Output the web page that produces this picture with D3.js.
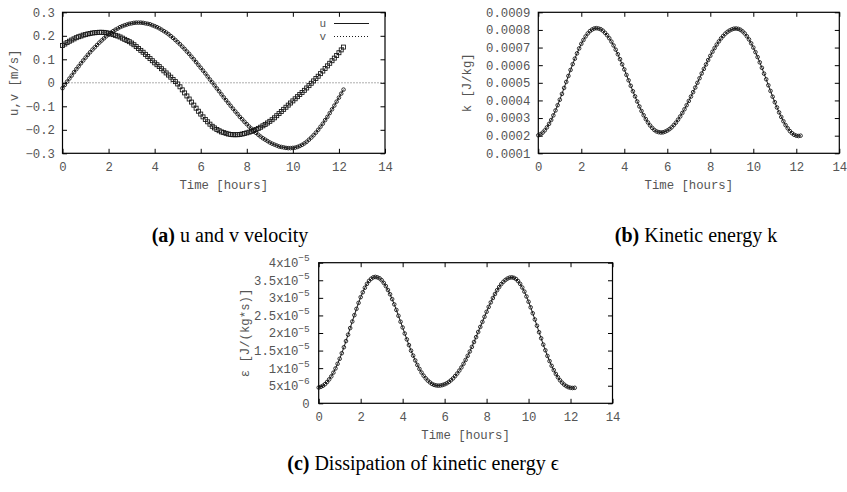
<!DOCTYPE html>
<html><head><meta charset="utf-8">
<script src="https://cdn.jsdelivr.net/npm/d3@7"></script>
<style>
body{margin:0;background:#fff;}
svg{display:block;}
.tick text{font-family:"Liberation Mono",monospace;font-size:12.3px;fill:#555;}
.atitle{font-family:"Liberation Mono",monospace;font-size:12.3px;fill:#555;}
.leg{font-family:"Liberation Mono",monospace;font-size:11px;fill:#555;}
.cap{font-family:"Liberation Serif","Times New Roman",serif;font-size:20px;fill:#000;}
</style></head><body>
<svg id="c" width="847" height="492"></svg>
<script>
// ---------------- data ----------------
const time = [0,0.1,0.2,0.3,0.4,0.5,0.6,0.7,0.8,0.9,1,1.1,1.2,1.3,1.4,1.5,1.6,1.7,1.8,1.9,2,2.1,2.2,2.3,2.4,2.5,2.6,2.7,2.8,2.9,
3,3.1,3.2,3.3,3.4,3.5,3.6,3.7,3.8,3.9,4,4.1,4.2,4.3,4.4,4.5,4.6,4.7,4.8,4.9,5,5.1,5.2,5.3,5.4,5.5,5.6,5.7,5.8,5.9,
6,6.1,6.2,6.3,6.4,6.5,6.6,6.7,6.8,6.9,7,7.1,7.2,7.3,7.4,7.5,7.6,7.7,7.8,7.9,8,8.1,8.2,8.3,8.4,8.5,8.6,8.7,8.8,8.9,
9,9.1,9.2,9.3,9.4,9.5,9.6,9.7,9.8,9.9,10,10.1,10.2,10.3,10.4,10.5,10.6,10.7,10.8,10.9,11,11.1,11.2,11.3,11.4,11.5,11.6,11.7,11.8,11.9,
12,12.1,12.2];

// u velocity (circles, solid)
const uVel = [-0.023,-0.009,0.005,0.018,0.031,0.045,0.058,0.070,0.083,0.095,0.107,0.119,0.130,0.141,0.151,0.161,0.171,0.180,0.189,0.198,
0.205,0.213,0.220,0.226,0.231,0.237,0.241,0.245,0.248,0.251,0.253,0.255,0.256,0.256,
0.256,0.255,0.253,0.251,0.249,0.245,0.241,0.237,0.232,0.226,0.220,0.214,0.207,0.199,0.191,0.182,0.173,0.164,0.154,0.144,
0.133,0.123,0.111,0.100,0.088,0.076,0.064,0.052,0.040,0.027,0.014,0.002,-0.011,-0.024,-0.036,-0.049,-0.062,-0.074,-0.086,-0.098,
-0.110,-0.122,-0.133,-0.145,-0.155,-0.166,-0.176,-0.186,-0.195,-0.204,-0.213,-0.221,-0.229,-0.236,-0.242,-0.248,-0.254,-0.259,-0.263,-0.267,
-0.271,-0.273,-0.275,-0.277,-0.278,-0.278,
-0.277,-0.276,-0.273,-0.269,-0.264,-0.258,-0.251,-0.242,-0.233,-0.223,-0.212,-0.200,-0.187,-0.174,-0.159,-0.145,-0.129,-0.113,-0.097,-0.080,
-0.063,-0.046,-0.029];

// v velocity (squares, dotted)
const vVel = [0.159,0.165,0.171,0.177,0.182,0.187,0.192,0.196,0.199,0.203,0.205,0.208,0.210,0.212,0.213,0.214,0.215,0.215,
0.2145,0.213,0.211,0.208,0.205,0.202,0.199,0.195,0.190,0.185,0.180,0.175,0.169,0.162,0.154,0.146,0.138,0.130,0.121,0.112,0.103,0.094,0.085,
0.077,0.069,0.060,0.051,0.042,0.033,0.024,0.014,0.005,-0.005,-0.017,-0.030,-0.043,-0.056,-0.069,-0.082,-0.095,-0.108,-0.121,-0.133,
-0.145,-0.156,-0.166,-0.176,-0.185,-0.192,-0.199,-0.204,-0.209,-0.212,-0.215,-0.218,-0.220,-0.221,
-0.221,-0.221,-0.220,-0.218,-0.216,-0.213,-0.210,-0.207,-0.203,-0.199,-0.194,-0.189,-0.183,-0.177,-0.171,-0.164,
-0.157,-0.149,-0.140,-0.131,-0.122,-0.113,-0.104,-0.095,-0.086,-0.077,-0.068,-0.059,-0.050,-0.041,-0.032,-0.022,-0.012,-0.002,
0.008,0.018,0.028,0.039,0.050,0.061,0.072,0.083,0.094,0.105,0.116,0.128,0.140,0.152];

// kinetic energy k [J/kg]
const kinEnergy = [2.02e-4,2.08e-4,2.17e-4,2.30e-4,2.47e-4,2.67e-4,2.89e-4,3.15e-4,3.43e-4,3.73e-4,4.04e-4,4.37e-4,4.71e-4,5.05e-4,5.39e-4,
5.73e-4,6.06e-4,6.37e-4,6.67e-4,6.95e-4,7.21e-4,7.43e-4,7.63e-4,7.80e-4,7.93e-4,8.02e-4,8.08e-4,8.10e-4,
8.08e-4,8.04e-4,7.96e-4,7.84e-4,7.70e-4,7.53e-4,7.34e-4,7.12e-4,6.88e-4,6.62e-4,6.34e-4,6.05e-4,5.76e-4,5.45e-4,5.14e-4,
4.83e-4,4.52e-4,4.23e-4,3.94e-4,3.66e-4,3.40e-4,3.16e-4,2.94e-4,2.75e-4,2.58e-4,2.44e-4,2.32e-4,2.24e-4,2.20e-4,2.18e-4,
2.19e-4,2.23e-4,2.29e-4,2.37e-4,2.47e-4,2.60e-4,2.74e-4,2.91e-4,3.09e-4,3.29e-4,3.50e-4,3.73e-4,3.97e-4,4.22e-4,4.47e-4,
4.73e-4,5.00e-4,5.26e-4,5.53e-4,5.79e-4,6.04e-4,6.29e-4,6.53e-4,6.76e-4,6.97e-4,7.17e-4,7.35e-4,7.52e-4,7.66e-4,7.79e-4,
7.89e-4,7.97e-4,8.03e-4,8.07e-4,8.08e-4,
8.06e-4,8.01e-4,7.92e-4,7.80e-4,7.64e-4,7.46e-4,7.24e-4,7.00e-4,6.74e-4,6.46e-4,6.16e-4,5.85e-4,5.52e-4,5.20e-4,4.86e-4,
4.54e-4,4.21e-4,3.90e-4,3.60e-4,3.32e-4,3.06e-4,2.82e-4,2.60e-4,2.42e-4,2.26e-4,2.14e-4,2.05e-4,2.00e-4,1.98e-4,2.00e-4];

// dissipation epsilon [J/(kg*s)]
const dissipation = [4.48e-6,4.68e-6,4.99e-6,5.44e-6,6.06e-6,6.81e-6,7.66e-6,8.72e-6,9.91e-6,11.24e-6,12.67e-6,14.25e-6,15.95e-6,17.70e-6,
19.52e-6,21.40e-6,23.27e-6,25.08e-6,26.87e-6,28.58e-6,30.20e-6,31.59e-6,32.88e-6,33.98e-6,34.84e-6,35.43e-6,35.83e-6,35.96e-6,
35.83e-6,35.56e-6,35.03e-6,34.25e-6,33.33e-6,32.23e-6,31.02e-6,29.64e-6,28.15e-6,26.57e-6,24.90e-6,23.21e-6,21.57e-6,19.85e-6,
18.18e-6,16.56e-6,14.99e-6,13.57e-6,12.20e-6,10.92e-6,9.78e-6,8.76e-6,7.86e-6,7.11e-6,6.46e-6,5.95e-6,5.51e-6,5.23e-6,5.09e-6,5.02e-6,
5.06e-6,5.20e-6,5.41e-6,5.69e-6,6.06e-6,6.54e-6,7.08e-6,7.74e-6,8.47e-6,9.31e-6,10.21e-6,11.24e-6,12.34e-6,13.52e-6,14.74e-6,
16.05e-6,17.44e-6,18.82e-6,20.29e-6,21.73e-6,23.16e-6,24.61e-6,26.03e-6,27.42e-6,28.71e-6,29.95e-6,31.09e-6,32.17e-6,33.07e-6,
33.92e-6,34.57e-6,35.10e-6,35.50e-6,35.76e-6,35.83e-6,
35.70e-6,35.37e-6,34.77e-6,33.98e-6,32.94e-6,31.79e-6,30.39e-6,28.89e-6,27.30e-6,25.61e-6,23.85e-6,22.07e-6,20.23e-6,18.50e-6,
16.71e-6,15.09e-6,13.48e-6,12.01e-6,10.66e-6,9.44e-6,8.35e-6,7.39e-6,6.54e-6,5.87e-6,5.30e-6,4.88e-6,4.58e-6,4.41e-6,4.35e-6,4.41e-6];

const xTicks = [0,2,4,6,8,10,12,14];
const uvTicks = [-0.3,-0.2,-0.1,0,0.1,0.2,0.3];
const kTicks = [0.0001,0.0002,0.0003,0.0004,0.0005,0.0006,0.0007,0.0008,0.0009];
const epsTicks = [0,5e-6,1e-5,1.5e-5,2e-5,2.5e-5,3e-5,3.5e-5,4e-5];
const epsTickMant = ["0","5x10","1x10","1.5x10","2x10","2.5x10","3x10","3.5x10","4x10"];
const epsTickExp = ["","−6","−5","−5","−5","−5","−5","−5","−5"];
const legendLabels = ["u","v"];
const captions = [["(a)"," u and v velocity"],["(b)"," Kinetic energy k"],["(c)"," Dissipation of kinetic energy ϵ"]];

// ---------------- drawing ----------------
const svg = d3.select("#c");
const TICK = 4.5;

function cleanAxis(sel){
  sel.select(".domain").remove();
  sel.selectAll(".tick line").attr("stroke","#000").attr("stroke-width",1);
}

function panel(p){
  const x = d3.scaleLinear().domain([0,14]).range([p.left,p.right]);
  const y = d3.scaleLinear().domain(p.yDomain).range([p.bottom,p.top]);
  const g = svg.append("g");

  g.append("g").attr("transform",`translate(0,${p.bottom})`)
    .call(d3.axisBottom(x).tickValues(xTicks).tickSizeInner(-TICK).tickSizeOuter(0).tickPadding(9).tickFormat(d3.format("d")))
    .call(cleanAxis);
  g.append("g").attr("transform",`translate(0,${p.top})`)
    .call(d3.axisTop(x).tickValues(xTicks).tickSizeInner(-TICK).tickSizeOuter(0).tickFormat(""))
    .call(cleanAxis);
  const yl = g.append("g").attr("transform",`translate(${p.left},0)`)
    .call(d3.axisLeft(y).tickValues(p.yTicks).tickSizeInner(-TICK).tickSizeOuter(0).tickPadding(p.pad).tickFormat(p.fmt))
    .call(cleanAxis);
  g.append("g").attr("transform",`translate(${p.right},0)`)
    .call(d3.axisRight(y).tickValues(p.yTicks).tickSizeInner(-TICK).tickSizeOuter(0).tickFormat(""))
    .call(cleanAxis);
  if (p.post) p.post(yl);

  g.append("rect").attr("x",p.left).attr("y",p.top)
    .attr("width",p.right-p.left).attr("height",p.bottom-p.top)
    .attr("fill","none").attr("stroke","#000").attr("stroke-width",1.2);

  g.append("text").attr("class","atitle").attr("text-anchor","middle")
    .attr("x",(p.left+p.right)/2).attr("y",p.bottom+36).text("Time [hours]");
  g.append("text").attr("class","atitle").attr("text-anchor","middle")
    .attr("transform",`translate(${p.ytx},${(p.top+p.bottom)/2}) rotate(-90)`)
    .attr("dy","0.35em").text(p.ytitle);
  return {g,x,y};
}

function drawSeries(g,x,y,vals,opts){
  const pts = time.map((t,i)=>[t,vals[i]]);
  g.append("path").datum(pts)
    .attr("d",d3.line().x(d=>x(d[0])).y(d=>y(d[1])))
    .attr("fill","none").attr("stroke","#000").attr("stroke-width",0.9)
    .attr("stroke-dasharray",opts.dash||null);
  if (opts.marker==="square"){
    g.selectAll(null).data(pts).enter().append("rect")
      .attr("x",d=>x(d[0])-2).attr("y",d=>y(d[1])-2).attr("width",4).attr("height",4)
      .attr("fill","none").attr("stroke","#111").attr("stroke-width",0.85);
  } else {
    g.selectAll(null).data(pts).enter().append("circle")
      .attr("cx",d=>x(d[0])).attr("cy",d=>y(d[1])).attr("r",1.8)
      .attr("fill","none").attr("stroke","#111").attr("stroke-width",0.85);
  }
}

// Panel (a)
const A = panel({left:62.5,right:385,top:12.3,bottom:153.3,yDomain:[-0.3,0.3],yTicks:uvTicks,pad:7.5,
  fmt:d=>Math.abs(d)<1e-9?"0":d3.format(".1f")(d), ytitle:"u,v [m/s]", ytx:13.5});
A.g.append("line").attr("x1",A.x(0)).attr("x2",A.x(14)).attr("y1",A.y(0)).attr("y2",A.y(0))
  .attr("stroke","#333").attr("stroke-width",0.8).attr("stroke-dasharray","1,2");
drawSeries(A.g,A.x,A.y,uVel,{marker:"circle"});
drawSeries(A.g,A.x,A.y,vVel,{marker:"square",dash:"1,2"});
// legend
legendLabels.forEach((l,i)=>{
  const ly = 23.5 + i*13;
  A.g.append("text").attr("class","leg").attr("text-anchor","end").attr("x",326).attr("y",ly).attr("dy","0.35em").text(l);
  A.g.append("line").attr("x1",334).attr("x2",369).attr("y1",ly).attr("y2",ly)
    .attr("stroke","#000").attr("stroke-width",0.9).attr("stroke-dasharray",i===1?"1,2":null);
});

// Panel (b)
const B = panel({left:538.3,right:839.3,top:12.3,bottom:153.3,yDomain:[0.0001,0.0009],yTicks:kTicks,pad:8,
  fmt:d3.format(".4f"), ytitle:"k [J/kg]", ytx:467});
drawSeries(B.g,B.x,B.y,kinEnergy,{marker:"circle"});

// Panel (c)
const C = panel({left:318.7,right:612.5,top:262.7,bottom:403.3,yDomain:[0,4e-5],yTicks:epsTicks,pad:9,
  fmt:d=>"", ytitle:"ε [J/(kg*s)]", ytx:245,
  post:(yl)=>{
    yl.selectAll(".tick text").each(function(d,i){
      const t = d3.select(this);
      t.text(null);
      t.append("tspan").text(epsTickMant[i]);
      if (epsTickExp[i]) t.append("tspan").attr("dy","-0.62em").attr("font-size","9.5px").text(epsTickExp[i]);
    });
  }});
drawSeries(C.g,C.x,C.y,dissipation,{marker:"circle"});

// captions
const capPos = [[230,242],[696,242],[423,470]];
captions.forEach((c,i)=>{
  const t = svg.append("text").attr("class","cap").attr("text-anchor","middle")
    .attr("x",capPos[i][0]).attr("y",capPos[i][1]);
  t.append("tspan").attr("font-weight","bold").text(c[0]);
  t.append("tspan").text(c[1]);
});
</script>
</body></html>
